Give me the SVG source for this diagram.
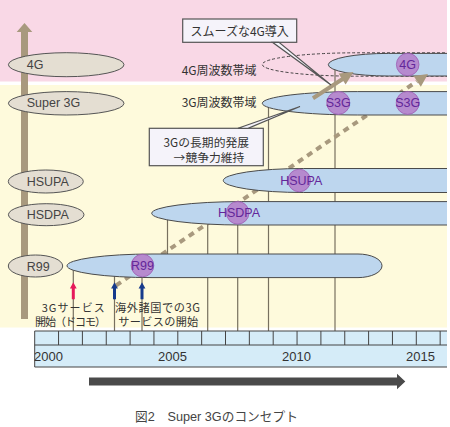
<svg xmlns="http://www.w3.org/2000/svg" width="450" height="427" viewBox="0 0 450 427">
<defs>
<style>
.t{font-family:"Liberation Sans","Noto Sans CJK JP",sans-serif;fill:#333;}
.j{font-family:"Noto Sans CJK JP","Liberation Sans",sans-serif;fill:#333;}
.lab{font-family:"Liberation Sans",sans-serif;font-size:12.5px;fill:#444;}
.bar{fill:#bdd6ee;stroke:none;}
.bl{fill:none;stroke:#4a4a4a;stroke-width:1;}
.gel{fill:#e4ded2;stroke:#555;stroke-width:1;}
.vl{stroke:#77705f;stroke-width:1.2;fill:none;}
.cir{fill:#b57dc8;fill-opacity:0.85;stroke:#9c5cb3;stroke-width:0.8;}
.ct{font-family:"Liberation Sans",sans-serif;font-size:12.5px;fill:#63279a;text-anchor:middle;}
.box{fill:#f5f3fa;stroke:#555;stroke-width:1.2;}
.tick{stroke:#444;stroke-width:1;fill:none;}
.taupe{fill:#a8997e;}
</style>
<clipPath id="panel"><rect x="0" y="0" width="447" height="330"/></clipPath>
</defs>

<!-- backgrounds -->
<rect x="0" y="0" width="447" height="81.5" fill="#f9d8e6"/>
<rect x="0" y="85" width="447" height="242.5" fill="#fefadc"/>

<!-- left vertical axis arrow -->
<path class="taupe" d="M21,319 V32 H16.7 L24.5,23 L32.3,32 H28 V319 Z"/>

<!-- connectors: vertical guide lines and dashed trend -->
<g id="connectors">
  <g id="guides">
    <line class="vl" x1="73.3" y1="266" x2="73.3" y2="331"/>
    <line class="vl" x1="114.5" y1="266" x2="114.5" y2="331"/>
    <line class="vl" x1="142" y1="266" x2="142" y2="331"/>
    <line class="vl" x1="167.5" y1="213" x2="167.5" y2="266"/>
    <line class="vl" x1="207.7" y1="213" x2="207.7" y2="331"/>
    <line class="vl" x1="237.7" y1="213" x2="237.7" y2="331"/>
    <line class="vl" x1="268.5" y1="103" x2="268.5" y2="331"/>
    <line class="vl" x1="335" y1="65" x2="335" y2="331"/>
  </g>
  <line id="trend-dashed" x1="116" y1="285.5" x2="417" y2="81.3" stroke="#a8997e" stroke-width="4" stroke-dasharray="6 5"/>
</g>

<!-- bars -->
<g clip-path="url(#panel)">
  <g id="bar-r99">
    <path class="bar" d="M67,265.8 A85,11.8 0 0 1 152,254 H358 A24,11.8 0 0 1 358,277.6 H152 A85,11.8 0 0 1 67,265.8 Z"/>
    <path class="bl" d="M67,265.8 A85,11.8 0 0 1 152,254 H358 A24,11.8 0 0 1 358,277.6 H152 A85,11.8 0 0 1 67,265.8 Z"/>
  </g>
  <g id="bar-hsdpa">
    <path class="bar" d="M151.7,213.3 A90,11.7 0 0 1 241.7,201.6 H450 V225 H241.7 A90,11.7 0 0 1 151.7,213.3 Z"/>
    <path class="bl" d="M450,201.6 H241.7 A90,11.7 0 0 0 151.7,213.3 A90,11.7 0 0 0 241.7,225 H450"/>
  </g>
  <g id="bar-hsupa">
    <path class="bar" d="M223.3,180.5 A80,12 0 0 1 303.3,168.5 H450 V192.5 H303.3 A80,12 0 0 1 223.3,180.5 Z"/>
    <path class="bl" d="M450,168.5 H303.3 A80,12 0 0 0 223.3,180.5 A80,12 0 0 0 303.3,192.5 H450"/>
  </g>
  <g id="bar-s3g">
    <path class="bar" d="M262.3,103.3 A95,11.7 0 0 1 357.3,91.6 H450 V115 H357.3 A95,11.7 0 0 1 262.3,103.3 Z"/>
    <path class="bl" d="M450,91.6 H357.3 A95,11.7 0 0 0 262.3,103.3 A95,11.7 0 0 0 357.3,115 H450"/>
  </g>
  <g id="band-4g">
    <path fill="none" stroke="#333" stroke-width="0.9" stroke-dasharray="3 2" d="M450,52.8 H357.3 A95,11.7 0 0 0 262.3,64.5 A95,11.7 0 0 0 357.3,76.2 H450"/>
  </g>
  <g id="bar-4g">
    <path class="bar" d="M328.3,64.7 A60,11.3 0 0 1 388.3,53.4 H450 V76 H388.3 A60,11.3 0 0 1 328.3,64.7 Z"/>
    <path class="bl" d="M450,53.4 H388.3 A60,11.3 0 0 0 328.3,64.7 A60,11.3 0 0 0 388.3,76 H450"/>
  </g>
</g>

<!-- milestone circles -->
<g id="c-r99"><circle class="cir" cx="142.5" cy="265.5" r="11.3"/><text class="ct" x="142.5" y="270">R99</text></g>
<g id="c-hsdpa"><circle class="cir" cx="237.7" cy="212.8" r="11.3"/><text class="ct" x="239" y="217.3">HSDPA</text></g>
<g id="c-hsupa"><circle class="cir" cx="299.2" cy="180.5" r="11.3"/><text class="ct" x="301.3" y="185">HSUPA</text></g>
<g id="c-s3g-1"><circle class="cir" cx="338.3" cy="102.9" r="11.5"/><text class="ct" x="338.3" y="107.4">S3G</text></g>
<g id="c-s3g-2"><circle class="cir" cx="407.7" cy="102.9" r="11.5"/><text class="ct" x="407.7" y="107.4">S3G</text></g>
<g id="c-4g"><circle class="cir" cx="407.7" cy="64.5" r="11.3"/><text class="ct" x="407.7" y="69">4G</text></g>

<!-- arrowheads / solid arrow -->
<g id="arrows">
  <polygon class="taupe" points="428,74 420.8,86.7 413.6,75.9"/>
  <line x1="313" y1="98.3" x2="343" y2="78.8" stroke="#a8997e" stroke-width="4"/>
  <polygon class="taupe" points="353.5,72 345.6,84.6 338.6,73.6"/>
</g>

<!-- callouts -->
<g id="callout-smooth4g">
  <rect class="box" x="182.7" y="19" width="114" height="23.3"/>
  <polygon class="box" points="272.5,42.3 279,42.3 331,85"/>
  <text class="j" x="239.7" y="35.5" font-size="12" text-anchor="middle">スムーズな4G導入</text>
</g>
<g id="callout-3g">
  <rect class="box" x="149.3" y="128.3" width="114" height="37.4"/>
  <polygon class="box" points="238,128.3 248,128.3 300,106.5"/>
  <text class="j" x="206.3" y="146.5" font-size="11.8" text-anchor="middle">3Gの長期的発展</text>
  <text class="j" x="209" y="161.5" font-size="11.8" text-anchor="middle">→競争力維持</text>
</g>

<text class="j" x="181.7" y="74.7" font-size="12">4G周波数帯域</text>
<text class="j" x="181.7" y="106.8" font-size="12">3G周波数帯域</text>

<!-- left technology labels -->
<g id="lbl-4g"><ellipse class="gel" cx="66.2" cy="64.7" rx="57.8" ry="12"/><text class="lab" x="26.7" y="68.7">4G</text></g>
<g id="lbl-super3g"><ellipse class="gel" cx="66.2" cy="103.3" rx="57.8" ry="11.7"/><text class="lab" x="26.7" y="107.3">Super 3G</text></g>
<g id="lbl-hsupa"><ellipse class="gel" cx="45.8" cy="181.5" rx="37.5" ry="11.5"/><text class="lab" x="26.7" y="185.8">HSUPA</text></g>
<g id="lbl-hsdpa"><ellipse class="gel" cx="46.2" cy="214.7" rx="37.8" ry="11"/><text class="lab" x="26.7" y="219">HSDPA</text></g>
<g id="lbl-r99"><ellipse class="gel" cx="35.5" cy="266" rx="27.2" ry="11"/><text class="lab" x="26.7" y="270.5">R99</text></g>

<!-- service start markers -->
<g id="mk-docomo">
  <path fill="#e6195a" d="M73.3,282.3 L76.7,288.4 H74.8 V299.3 H71.8 V288.4 H69.9 Z"/>
  <text class="j" x="41.7" y="312.3" font-size="11" textLength="63">3Gサービス</text>
  <text class="j" x="35" y="325.7" font-size="11" textLength="71">開始（ドコモ）</text>
</g>
<g id="mk-overseas">
  <path fill="#163a8c" d="M114.5,282.3 L117.9,288.4 H116 V299.3 H113 V288.4 H111.1 Z"/>
  <path fill="#163a8c" d="M142,282.3 L145.4,288.4 H143.5 V299.3 H140.5 V288.4 H138.6 Z"/>
  <text class="j" x="115" y="312.3" font-size="11.2" textLength="85">海外諸国での3G</text>
  <text class="j" x="118.3" y="325.7" font-size="11.2" textLength="80">サービスの開始</text>
</g>

<!-- timeline -->
<g id="timeline">
  <rect x="34.7" y="331" width="412.3" height="36" fill="#d5ecf8"/>
  <path class="tick" d="M447,331 H34.7 V367 H447 M34.7,345 H447"/>
  <path class="tick" d="M58.55,331V345 M82.4,331V345 M106.25,331V345 M130.1,331V345 M153.95,331V345 M177.8,331V345 M201.65,331V345 M225.5,331V345 M249.35,331V345 M273.2,331V345 M297.05,331V345 M320.9,331V345 M344.75,331V345 M368.6,331V345 M392.45,331V345 M416.3,331V345 M440.15,331V345"/>
  <text class="t" x="34" y="361" font-size="13">2000</text>
  <text class="t" x="158" y="361" font-size="13">2005</text>
  <text class="t" x="282" y="361" font-size="13">2010</text>
  <text class="t" x="406" y="361" font-size="13">2015</text>
</g>

<!-- time arrow -->
<path fill="#4a4a4a" d="M89,377.5 H397 V373.8 L405.3,381.5 L397,389.3 V385.5 H89 Z"/>

<text class="t" x="135" y="421.3" font-size="12.7" style="fill:#444">図2　Super 3Gのコンセプト</text>
</svg>
